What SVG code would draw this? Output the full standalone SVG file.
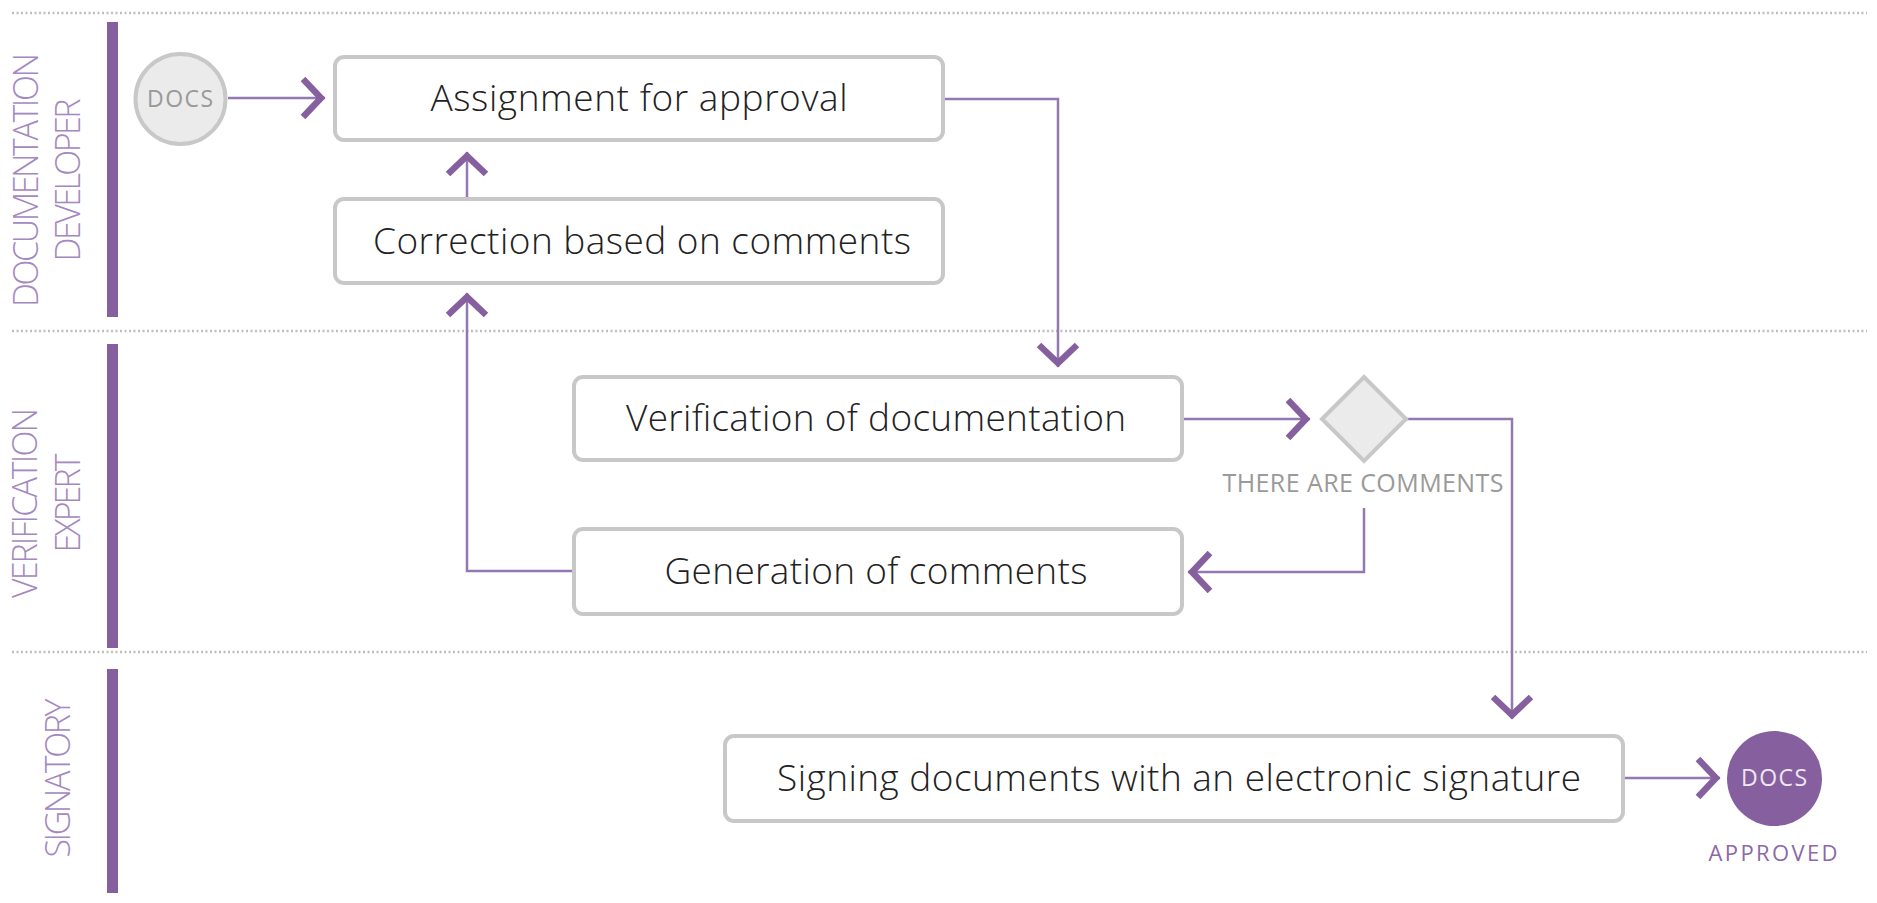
<svg xmlns="http://www.w3.org/2000/svg" width="1877" height="903" viewBox="0 0 1877 903">
<style>
.sep{stroke:#bdbdbd;stroke-width:2.5;stroke-dasharray:2 2.5;fill:none}
.bar{fill:#86609e}
.lane{font-family:"Open Sans","Lato","Liberation Sans",sans-serif;font-weight:300;font-size:34px;fill:#a489c0;text-anchor:middle}
.box{fill:#fff;stroke:#c8c8c8;stroke-width:4}
.btxt{font-family:"Open Sans","Lato","Liberation Sans",sans-serif;font-weight:300;font-size:37px;fill:#222;text-anchor:middle}
.con{fill:none;stroke:#9478b0;stroke-width:2.5}
.small{font-family:"Open Sans","Lato","Liberation Sans",sans-serif;font-weight:400;text-anchor:middle}
</style>
<defs>
<marker id="chev" markerUnits="userSpaceOnUse" orient="auto" viewBox="-30 -26 34 52" refX="0" refY="0" markerWidth="34" markerHeight="52" overflow="visible">
<path d="M-22,-19 L-4,0 L-22,19" fill="none" stroke="#86609e" stroke-width="6.5"/>
</marker>
</defs>
<rect width="1877" height="903" fill="#fff"/>
<g id="lanes">
<line class="sep" x1="12" y1="13" x2="1867" y2="13"/>
<line class="sep" x1="12" y1="331" x2="1867" y2="331"/>
<line class="sep" x1="12" y1="652" x2="1867" y2="652"/>
<rect class="bar" x="107" y="22" width="11" height="295"/>
<rect class="bar" x="107" y="344" width="11" height="304"/>
<rect class="bar" x="107" y="669" width="11" height="224"/>
<text class="lane" transform="translate(38,180) rotate(-90)" textLength="254">DOCUMENTATION</text>
<text class="lane" transform="translate(80,180) rotate(-90)" textLength="163">DEVELOPER</text>
<text class="lane" transform="translate(37,503) rotate(-90)" textLength="190">VERIFICATION</text>
<text class="lane" transform="translate(80,503) rotate(-90)" textLength="99">EXPERT</text>
<text class="lane" transform="translate(70,778) rotate(-90)" textLength="159">SIGNATORY</text>
</g>
<g id="connectors">
<path class="con" d="M228,98 H325" marker-end="url(#chev)"/>
<path class="con" d="M467,197 V152" marker-end="url(#chev)"/>
<path class="con" d="M572,571 H467 V293" marker-end="url(#chev)"/>
<path class="con" d="M945,99 H1058 V367" marker-end="url(#chev)"/>
<path class="con" d="M1184,419 H1310" marker-end="url(#chev)"/>
<path class="con" d="M1406,419 H1512 V719" marker-end="url(#chev)"/>
<path class="con" d="M1364,508 V572 H1188" marker-end="url(#chev)"/>
<path class="con" d="M1625,778 H1720" marker-end="url(#chev)"/>
</g>
<g id="start">
<circle cx="180.5" cy="99" r="45" fill="#ebebeb" stroke="#c8c8c8" stroke-width="4"/>
<text class="small" x="180" y="107" font-size="23" fill="#999" textLength="66">DOCS</text>
</g>
<g id="assignment">
<rect class="box" x="335" y="57" width="608" height="83" rx="9"/>
<text class="btxt" x="639" y="111" textLength="417">Assignment for approval</text>
</g>
<g id="correction">
<rect class="box" x="335" y="199" width="608" height="84" rx="9"/>
<text class="btxt" x="642" y="254" textLength="538">Correction based on comments</text>
</g>
<g id="verification">
<rect class="box" x="574" y="377" width="608" height="83" rx="9"/>
<text class="btxt" x="876" y="431" textLength="500">Verification of documentation</text>
</g>
<g id="generation">
<rect class="box" x="574" y="529" width="608" height="85" rx="9"/>
<text class="btxt" x="876" y="584" textLength="423">Generation of comments</text>
</g>
<g id="decision">
<polygon points="1364,377 1406,419 1364,461 1322,419" fill="#ebebeb" stroke="#c8c8c8" stroke-width="4"/>
<text class="small" x="1363" y="492" font-size="25" fill="#9a9a9a" textLength="281">THERE ARE COMMENTS</text>
</g>
<g id="signing">
<rect class="box" x="725" y="736" width="898" height="85" rx="9"/>
<text class="btxt" x="1179" y="791" textLength="804">Signing documents with an electronic signature</text>
</g>
<g id="end">
<circle cx="1774.5" cy="778.5" r="47.5" fill="#86609e"/>
<text class="small" x="1774" y="786" font-size="23" fill="#eee6f3" textLength="66">DOCS</text>
<text class="small" x="1773" y="861" font-size="22" fill="#8c68a6" textLength="129">APPROVED</text>
</g>
</svg>
